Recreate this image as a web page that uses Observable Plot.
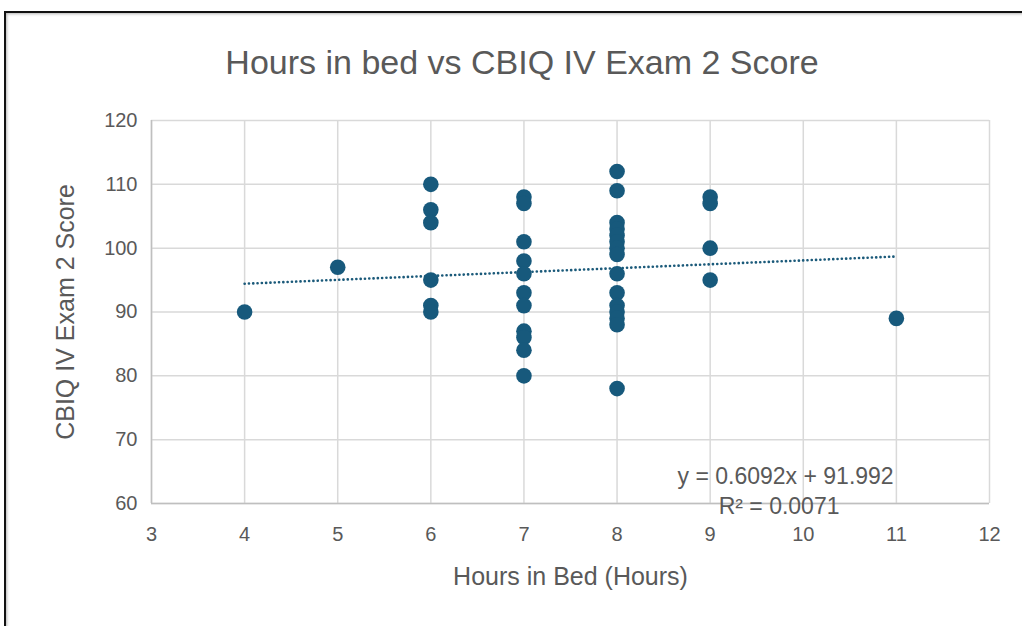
<!DOCTYPE html>
<html><head><meta charset="utf-8">
<script src="https://cdn.jsdelivr.net/npm/d3@7"></script>
<script src="https://cdn.jsdelivr.net/npm/@observablehq/plot@0.6"></script>
<style>
html,body{margin:0;padding:0;background:#fff;overflow:hidden}
#wrap{position:relative;width:1022px;height:626px}
#border{position:absolute;left:4px;top:11px;width:1100px;height:700px;border-top:2px solid #111;border-left:2px solid #111;box-shadow:1px 1px 3px rgba(0,0,0,0.3) inset}
#title{position:absolute;left:0;width:1044px;top:40px;text-align:center;font-family:"Liberation Sans",sans-serif;font-size:34px;color:#595959;line-height:44px}
#chart{position:absolute;left:0;top:0}
</style></head>
<body><div id="wrap"><div id="border"></div><div id="title">Hours in bed vs CBIQ IV Exam 2 Score</div><div id="chart"></div></div>
<script>
const hours = [4,5,6,6,6,6,6,6,7,7,7,7,7,7,7,7,7,7,7,8,8,8,8,8,8,8,8,8,8,8,8,8,8,8,9,9,9,9,11];
const scores = [90,97,110,106,104,95,91,90,108,107,101,98,96,93,91,87,86,84,80,112,109,104,103,102,101,100,99,96,93,91,90,89,88,78,108,107,100,95,89];
const xTicks = [3,4,5,6,7,8,9,10,11,12];
const yTicks = [60,70,80,90,100,110,120];
const trendSlope = [0.6092];
const trendIntercept = [91.992];
const trendRange = [4, 11];
const eqLabels = ["y = 0.6092x + 91.992", "R² = 0.0071"];

const pts = hours.map((h,i)=>({h, s: scores[i]}));
const trend = trendRange.map(x=>({x, y: trendSlope[0]*x + trendIntercept[0]}));
const gray = "#595959";
const font = "'Liberation Sans', sans-serif";

const chart = Plot.plot({
  width: 1022, height: 626,
  marginLeft: 151, marginRight: 33, marginTop: 120, marginBottom: 123,
  style: {fontFamily: font, fontSize: "20px", color: gray, background: "transparent", overflow: "visible"},
  x: {domain: [3,12]},
  y: {domain: [60,120]},
  marks: [
    Plot.gridX(xTicks, {stroke: "#d9d9d9", strokeOpacity: 1, strokeWidth: 1.5}),
    Plot.gridY(yTicks, {stroke: "#d9d9d9", strokeOpacity: 1, strokeWidth: 1.5}),
    Plot.ruleX([3], {stroke: "#bfbfbf", strokeWidth: 1.5}),
    Plot.ruleY([60], {stroke: "#bfbfbf", strokeWidth: 1.5}),
    Plot.axisX({ticks: xTicks, tickSize: 0, tickPadding: 23, fontSize: 20, fill: gray, label: null}),
    Plot.axisY({ticks: yTicks, tickSize: 0, tickPadding: 14, fontSize: 20, fill: gray, label: null}),
    Plot.text(["Hours in Bed (Hours)"], {frameAnchor: "bottom", dy: 81, text: d=>d, fontSize: 25, fill: gray}),
    Plot.text(["CBIQ IV Exam 2 Score"], {frameAnchor: "left", dx: -86, rotate: -90, textAnchor: "middle", text: d=>d, fontSize: 25, fill: gray}),
    Plot.line(trend, {x: "x", y: "y", stroke: "#1b5a7a", strokeWidth: 2.6, strokeDasharray: "0.1 4.2", strokeLinecap: "round"}),
    Plot.dot(pts, {x: "h", y: "s", r: 7.8, fill: "#17597c", stroke: "none"}),
    Plot.text([eqLabels[0]], {x: 9.81, y: 64.2, text: d=>d, fontSize: 23, fill: gray}),
    Plot.text([eqLabels[1]], {x: 9.74, y: 59.5, text: d=>d, fontSize: 23, fill: gray})
  ]
});
document.getElementById("chart").appendChild(chart);
</script></body></html>
